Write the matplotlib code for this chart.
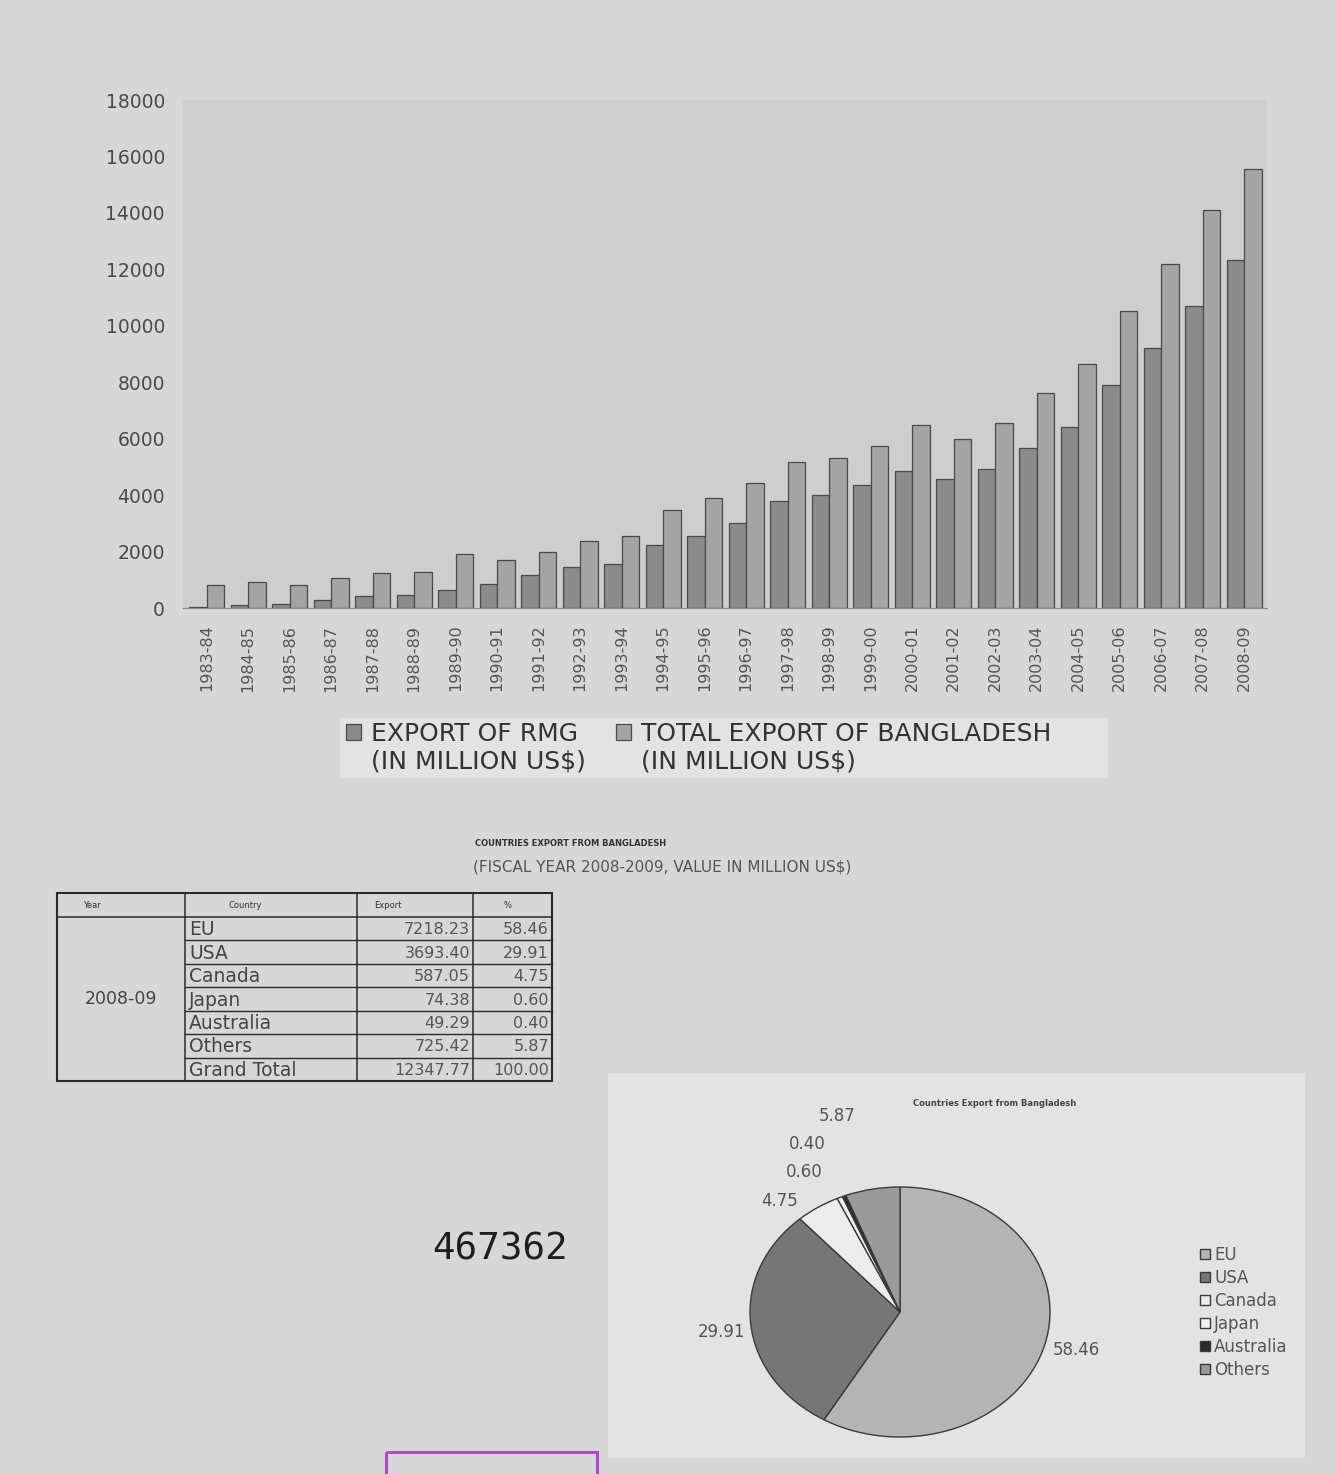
import numpy as np
import matplotlib
matplotlib.use('Agg')
import matplotlib.pyplot as plt
from matplotlib.patches import Rectangle

W, H = 1335, 1474

# RMG vs total exports, million US$
years = ['1983-84', '1984-85', '1985-86', '1986-87', '1987-88', '1988-89',
         '1989-90', '1990-91', '1991-92', '1992-93', '1993-94', '1994-95',
         '1995-96', '1996-97', '1997-98', '1998-99', '1999-00', '2000-01',
         '2001-02', '2002-03', '2003-04', '2004-05', '2005-06', '2006-07',
         '2007-08', '2008-09']
rmg_export = [31.57, 116.20, 131.48, 298.67, 433.92, 471.09, 624.16, 866.82,
              1182.57, 1445.02, 1555.79, 2228.35, 2547.13, 3001.25, 3781.94,
              4019.98, 4349.41, 4859.83, 4583.75, 4912.14, 5686.09, 6417.67,
              7900.80, 9211.23, 10699.80, 12347.77]
total_export = [811.00, 934.43, 819.21, 1076.61, 1231.20, 1291.56, 1923.70,
                1717.55, 1993.90, 2382.89, 2533.90, 3472.56, 3882.42, 4418.28,
                5161.20, 5312.86, 5752.20, 6467.30, 5986.09, 6548.44, 7602.99,
                8654.52, 10526.16, 12177.86, 14110.80, 15565.19]
yticks = list(range(0, 18001, 2000))
bar_labels = ['EXPORT OF RMG', 'TOTAL EXPORT OF BANGLADESH']
unit_label = '(IN MILLION US$)'

# country-wise exports, fiscal year 2008-09
fiscal_year = '2008-09'
table_header = ['Year', 'Country', 'Export', '%']
countries = ['EU', 'USA', 'Canada', 'Japan', 'Australia', 'Others']
country_export = [7218.23, 3693.40, 587.05, 74.38, 49.29, 725.42]
country_pct = [58.46, 29.91, 4.75, 0.60, 0.40, 5.87]
grand_total = 12347.77
pct_total = 100.00

page = '#d7d7d7'
pie_colors = ['#b4b4b4', '#767676', '#ececec', '#f2f2f2', '#2b2b2b', '#9a9a9a']


def fx(px):
    return px / W


def fy(py):
    return 1 - py / H


def box(x0, y0, x1, y1):
    return [fx(x0), fy(y1), (x1 - x0) / W, (y1 - y0) / H]


plt.rcParams['font.family'] = ['DejaVu Sans']
fig = plt.figure(figsize=(W / 100, H / 100), dpi=100, facecolor=page)

# lighter panels behind the bar legend and the pie chart
for x0, y0, x1, y1 in [(340, 718, 1108, 778), (608, 1073, 1305, 1458)]:
    fig.patches.append(Rectangle((fx(x0), fy(y1)), (x1 - x0) / W, (y1 - y0) / H,
                                 transform=fig.transFigure, facecolor='#e3e3e3',
                                 edgecolor='none', zorder=-5))

# ---- bar chart
ax = fig.add_axes(box(183, 100, 1267, 608))
x = np.arange(len(years))
bw = 0.42
b1 = ax.bar(x - bw / 2, rmg_export, bw, color='#8b8b8b', edgecolor='#4a4a4a', linewidth=0.9)
b2 = ax.bar(x + bw / 2, total_export, bw, color='#a4a4a4', edgecolor='#4a4a4a', linewidth=0.9)
ax.set_facecolor('#cecece')
ax.set_ylim(0, 18000)
ax.set_xlim(-0.57, len(years) - 0.45)
ax.set_yticks(yticks)
ax.set_yticklabels([str(v) for v in yticks], fontsize=13.5, color='#4a4a4a')
ax.set_xticks(x)
ax.set_xticklabels(years, rotation=90, fontsize=11.5, color='#555555')
ax.tick_params(axis='y', length=0, pad=13)
ax.tick_params(axis='x', length=0, pad=12)
for s in ['top', 'right', 'left']:
    ax.spines[s].set_visible(False)
ax.spines['bottom'].set_color('#8a8a8a')

legs = []
for handle, label, lx in [(b1, bar_labels[0], 346), (b2, bar_labels[1], 616)]:
    leg = fig.legend([handle], [label], loc='upper left', bbox_to_anchor=(fx(lx), fy(722)),
                     frameon=False, fontsize=18, handlelength=0.6, handleheight=0.6,
                     handletextpad=0.4, borderpad=0, borderaxespad=0, labelcolor='#333333')
    legs.append(leg)

# ---- table
ov = fig.add_axes([0, 0, 1, 1], zorder=5)
ov.set_xlim(0, W)
ov.set_ylim(H, 0)
ov.axis('off')

col_edges = [57, 185, 357, 473, 552]
row_edges = [893] + list(np.linspace(917, 1081, len(countries) + 2))
lc = '#2a2a2a'
ov.add_patch(Rectangle((col_edges[0], row_edges[0]), col_edges[-1] - col_edges[0],
                       row_edges[-1] - row_edges[0], fill=False, edgecolor=lc, lw=1.5))
for cx in col_edges[1:-1]:
    ov.plot([cx, cx], [row_edges[0], row_edges[-1]], color=lc, lw=1.1)
ov.plot([col_edges[0], col_edges[-1]], [row_edges[1]] * 2, color=lc, lw=1.1)
for ry in row_edges[2:-1]:
    ov.plot([col_edges[1], col_edges[-1]], [ry, ry], color=lc, lw=1.0)

for label, hx in zip(table_header, [92, 245, 388, 508]):
    ov.text(hx, (row_edges[0] + row_edges[1]) / 2, label, fontsize=6, color='#333333',
            ha='center', va='center')

row_names = countries + ['Grand Total']
row_vals = country_export + [grand_total]
row_pcts = country_pct + [pct_total]
for i, (name, val, pct) in enumerate(zip(row_names, row_vals, row_pcts)):
    yc = (row_edges[i + 1] + row_edges[i + 2]) / 2
    ov.text(189, yc + 1, name, fontsize=13.5, color='#444444', ha='left', va='center')
    ov.text(470, yc + 1, f'{val:.2f}', fontsize=11.5, color='#555555', ha='right', va='center')
    ov.text(549, yc + 1, f'{pct:.2f}', fontsize=11.5, color='#555555', ha='right', va='center')
ov.text(121, (row_edges[1] + row_edges[-1]) / 2, fiscal_year, fontsize=12.5,
        color='#444444', ha='center', va='center')

ov.text(475, 843, 'COUNTRIES EXPORT FROM BANGLADESH', fontsize=6, fontweight='bold',
        color='#333333', ha='left', va='center')
ov.text(473, 867, '(FISCAL YEAR 2008-2009, VALUE IN MILLION US$)', fontsize=11,
        color='#555555', ha='left', va='center')

ov.text(500, 1250, '467362', fontsize=27, family='DejaVu Sans Mono', color='#1e1e1e',
        ha='center', va='center')

# stamp frame at the page foot
ov.add_patch(Rectangle((386, 1452), 211, 40, fill=False, edgecolor='#b548c8', lw=2.2))

# ---- pie chart
axp = fig.add_axes(box(750, 1187, 1050, 1437))
wedges, _ = axp.pie(country_pct, colors=pie_colors, startangle=90, counterclock=False,
                    wedgeprops=dict(edgecolor='#3a3a3a', linewidth=1.0))
for w in wedges:
    w.set_clip_on(False)
axp.set_aspect('auto')
axp.set_xlim(-1, 1)
axp.set_ylim(-1, 1)
axp.axis('off')

pie_label_pos = [(1053, 1350, 'left'), (745, 1332, 'right'), (798, 1201, 'right'),
                 (823, 1172, 'right'), (826, 1144, 'right'), (855, 1116, 'right')]
for pct, (px, py, ha) in zip(country_pct, pie_label_pos):
    ov.text(px, py, f'{pct:.2f}', fontsize=12, color='#555555', ha=ha, va='center')

ov.text(995, 1103, 'Countries Export from Bangladesh', fontsize=6, fontweight='bold',
        color='#444444', ha='center', va='center')

fig.legend(wedges, countries, loc='upper left', bbox_to_anchor=(fx(1200), fy(1246)),
           frameon=False, fontsize=12, handlelength=0.6, handleheight=0.6,
           handletextpad=0.25, labelspacing=0.3, borderpad=0, borderaxespad=0,
           labelcolor='#555555')

# second line of each bar legend entry, under its first line
fig.canvas.draw()
for leg in legs:
    bb = leg.get_texts()[0].get_window_extent()
    fig.text(bb.x0 / W, (bb.y0 - 27) / H, unit_label, fontsize=18, color='#333333',
             ha='left', va='bottom')

fig.savefig('out.png', dpi=100, facecolor=page)
